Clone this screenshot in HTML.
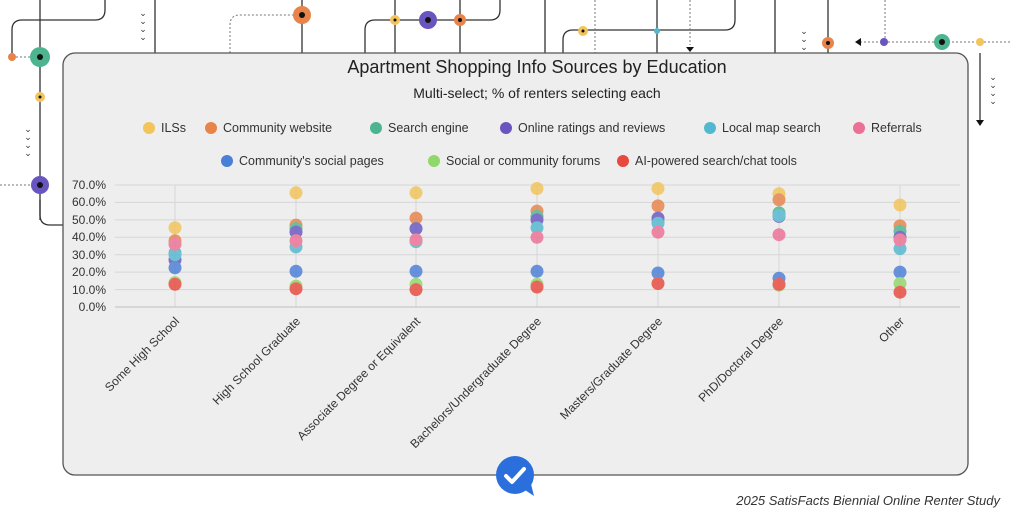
<!DOCTYPE html>
<html><head><meta charset="utf-8"><style>
html,body{margin:0;padding:0;background:#fff;}
svg{display:block;font-family:"Liberation Sans",sans-serif;}
</style></head><body>
<svg width="1024" height="519" viewBox="0 0 1024 519" xmlns="http://www.w3.org/2000/svg">
<g fill="none" stroke="#333" stroke-width="1.3">
<path d="M105 0 V10 Q105 20 95 20 H22 Q12 20 12 30 V55"/>
<line x1="40" y1="0" x2="40" y2="220"/>
<path d="M40 200 V215 Q40 225 50 225 H63"/>
<line x1="155" y1="0" x2="155" y2="53"/>
<line x1="302" y1="0" x2="302" y2="53"/>
<path d="M365 53 V30 Q365 20 375 20 H490 Q500 20 500 10 V0"/>
<line x1="395" y1="0" x2="395" y2="53"/>
<line x1="460" y1="0" x2="460" y2="53"/>
<path d="M563 53 V40 Q563 30 573 30 H725 Q735 30 735 20 V0"/>
<line x1="657" y1="0" x2="657" y2="53"/>
<line x1="545" y1="0" x2="545" y2="53"/>
<line x1="775" y1="0" x2="775" y2="53"/>
<line x1="828" y1="0" x2="828" y2="53"/>
<line x1="980" y1="53" x2="980" y2="120"/>
</g>
<g fill="none" stroke="#777" stroke-width="1" stroke-dasharray="2,2">
<path d="M230 53 V25 Q230 15 240 15 H302"/>
<line x1="0" y1="185" x2="40" y2="185"/>
<line x1="12" y1="57" x2="40" y2="57"/>
<line x1="860" y1="42" x2="1010" y2="42"/>
<line x1="885" y1="0" x2="885" y2="42"/>
<line x1="690" y1="0" x2="690" y2="45"/>
<line x1="595" y1="0" x2="595" y2="53"/>
</g>
<g fill="#333" font-size="9" text-anchor="middle">
<text x="143" y="16">⌄</text><text x="143" y="24">⌄</text><text x="143" y="32">⌄</text><text x="143" y="40">⌄</text>
<text x="804" y="34">⌄</text><text x="804" y="42">⌄</text><text x="804" y="50">⌄</text>
<text x="28" y="132">⌄</text><text x="28" y="140">⌄</text><text x="28" y="148">⌄</text><text x="28" y="156">⌄</text>
<text x="993" y="80">⌄</text><text x="993" y="88">⌄</text><text x="993" y="96">⌄</text><text x="993" y="104">⌄</text>
</g>
<circle cx="40" cy="57" r="10" fill="#4cb58f"/><circle cx="40" cy="57" r="3" fill="#111"/>
<circle cx="12" cy="57" r="4" fill="#e8834a"/>
<circle cx="40" cy="97" r="5" fill="#f2c45a"/><circle cx="40" cy="97" r="1.5" fill="#111"/>
<circle cx="40" cy="185" r="9" fill="#6a55c0"/><circle cx="40" cy="185" r="3" fill="#111"/>
<circle cx="302" cy="15" r="9" fill="#e8834a"/><circle cx="302" cy="15" r="3" fill="#111"/>
<circle cx="395" cy="20" r="5" fill="#f2c45a"/><circle cx="395" cy="20" r="1.5" fill="#111"/>
<circle cx="428" cy="20" r="9" fill="#6a55c0"/><circle cx="428" cy="20" r="3" fill="#111"/>
<circle cx="460" cy="20" r="6" fill="#e8834a"/><circle cx="460" cy="20" r="2" fill="#111"/>
<circle cx="583" cy="31" r="5" fill="#f2c45a"/><circle cx="583" cy="31" r="1.5" fill="#111"/>
<circle cx="657" cy="31" r="3" fill="#52b8d0"/>
<circle cx="828" cy="43" r="6" fill="#e8834a"/><circle cx="828" cy="43" r="2" fill="#111"/>
<circle cx="884" cy="42" r="4" fill="#6a55c0"/>
<circle cx="942" cy="42" r="8" fill="#4cb58f"/><circle cx="942" cy="42" r="3" fill="#111"/>
<circle cx="980" cy="42" r="4" fill="#f2c45a"/>
<polygon points="686,47 694,47 690,52" fill="#111"/>
<polygon points="976,120 984,120 980,126" fill="#111"/>
<polygon points="855,42 861,38 861,46" fill="#111"/>

<rect x="63" y="53" width="905" height="422" rx="12" fill="#eeeeee" stroke="#555" stroke-width="1.3"/>
<text x="537" y="73" font-size="18" text-anchor="middle" fill="#222">Apartment Shopping Info Sources by Education</text>
<text x="537" y="98" font-size="14" text-anchor="middle" fill="#222">Multi-select; % of renters selecting each</text>
<g font-size="12.5" fill="#333">
<circle cx="149" cy="128" r="6" fill="#f2c45a"/><text x="161" y="132">ILSs</text>
<circle cx="211" cy="128" r="6" fill="#e8834a"/><text x="223" y="132">Community website</text>
<circle cx="376" cy="128" r="6" fill="#4cb58f"/><text x="388" y="132">Search engine</text>
<circle cx="506" cy="128" r="6" fill="#6a55c0"/><text x="518" y="132">Online ratings and reviews</text>
<circle cx="710" cy="128" r="6" fill="#52b8d0"/><text x="722" y="132">Local map search</text>
<circle cx="859" cy="128" r="6" fill="#ec7096"/><text x="871" y="132">Referrals</text>
<circle cx="227" cy="161" r="6" fill="#4a7fd8"/><text x="239" y="165">Community's social pages</text>
<circle cx="434" cy="161" r="6" fill="#8fd86a"/><text x="446" y="165">Social or community forums</text>
<circle cx="623" cy="161" r="6" fill="#e8493e"/><text x="635" y="165">AI-powered search/chat tools</text>
</g>
<g stroke="#d6d6d6" stroke-width="1">
<line x1="115" y1="185" x2="960" y2="185"/><line x1="115" y1="202.4" x2="960" y2="202.4"/>
<line x1="115" y1="219.9" x2="960" y2="219.9"/><line x1="115" y1="237.3" x2="960" y2="237.3"/>
<line x1="115" y1="254.7" x2="960" y2="254.7"/><line x1="115" y1="272.1" x2="960" y2="272.1"/>
<line x1="115" y1="289.6" x2="960" y2="289.6"/>
<line x1="175" y1="185" x2="175" y2="307"/><line x1="296" y1="185" x2="296" y2="307"/>
<line x1="416" y1="185" x2="416" y2="307"/><line x1="537" y1="185" x2="537" y2="307"/>
<line x1="658" y1="185" x2="658" y2="307"/><line x1="779" y1="185" x2="779" y2="307"/>
<line x1="900" y1="185" x2="900" y2="307"/>
</g>
<line x1="115" y1="307" x2="960" y2="307" stroke="#c8c8c8" stroke-width="1.3"/>
<g font-size="12" fill="#333" text-anchor="end">
<text x="106" y="189">70.0%</text><text x="106" y="206">60.0%</text><text x="106" y="224">50.0%</text>
<text x="106" y="241">40.0%</text><text x="106" y="259">30.0%</text><text x="106" y="276">20.0%</text>
<text x="106" y="294">10.0%</text><text x="106" y="311">0.0%</text>
</g>
<g font-size="12" fill="#333" text-anchor="end">
<text transform="translate(180,322) rotate(-45)">Some High School</text>
<text transform="translate(301,322) rotate(-45)">High School Graduate</text>
<text transform="translate(421,322) rotate(-45)">Associate Degree or Equivalent</text>
<text transform="translate(542,322) rotate(-45)">Bachelors/Undergraduate Degree</text>
<text transform="translate(663,322) rotate(-45)">Masters/Graduate Degree</text>
<text transform="translate(784,322) rotate(-45)">PhD/Doctoral Degree</text>
<text transform="translate(905,322) rotate(-45)">Other</text>
</g>
<g opacity="0.82">
<g fill="#f2c45a"><circle cx="175" cy="227.7" r="6.5"/><circle cx="296" cy="192.8" r="6.5"/><circle cx="416" cy="192.8" r="6.5"/><circle cx="537" cy="188.5" r="6.5"/><circle cx="658" cy="188.5" r="6.5"/><circle cx="779" cy="193.7" r="6.5"/><circle cx="900" cy="205" r="6.5"/></g>
<g fill="#e8834a"><circle cx="175" cy="240.8" r="6.5"/><circle cx="296" cy="225.1" r="6.5"/><circle cx="416" cy="218.1" r="6.5"/><circle cx="537" cy="211.1" r="6.5"/><circle cx="658" cy="205.9" r="6.5"/><circle cx="779" cy="199.8" r="6.5"/><circle cx="900" cy="225.9" r="6.5"/></g>
<g fill="#4cb58f"><circle cx="175" cy="253" r="6.5"/><circle cx="296" cy="228.6" r="6.5"/><circle cx="416" cy="228.6" r="6.5"/><circle cx="537" cy="216.4" r="6.5"/><circle cx="658" cy="221.6" r="6.5"/><circle cx="779" cy="212.9" r="6.5"/><circle cx="900" cy="231.2" r="6.5"/></g>
<g fill="#6a55c0"><circle cx="175" cy="259.9" r="6.5"/><circle cx="296" cy="232.1" r="6.5"/><circle cx="416" cy="228.6" r="6.5"/><circle cx="537" cy="219.9" r="6.5"/><circle cx="658" cy="218.1" r="6.5"/><circle cx="779" cy="216.4" r="6.5"/><circle cx="900" cy="237.3" r="6.5"/></g>
<g fill="#52b8d0"><circle cx="175" cy="254.7" r="6.5"/><circle cx="296" cy="246.9" r="6.5"/><circle cx="416" cy="241.6" r="6.5"/><circle cx="537" cy="227.7" r="6.5"/><circle cx="658" cy="223.3" r="6.5"/><circle cx="779" cy="215.5" r="6.5"/><circle cx="900" cy="248.6" r="6.5"/></g>
<g fill="#ec7096"><circle cx="175" cy="244.3" r="6.5"/><circle cx="296" cy="240.8" r="6.5"/><circle cx="416" cy="239.9" r="6.5"/><circle cx="537" cy="237.3" r="6.5"/><circle cx="658" cy="232.1" r="6.5"/><circle cx="779" cy="234.7" r="6.5"/><circle cx="900" cy="239.9" r="6.5"/></g>
<g fill="#4a7fd8"><circle cx="175" cy="267.8" r="6.5"/><circle cx="296" cy="271.3" r="6.5"/><circle cx="416" cy="271.3" r="6.5"/><circle cx="537" cy="271.3" r="6.5"/><circle cx="658" cy="273" r="6.5"/><circle cx="779" cy="278.2" r="6.5"/><circle cx="900" cy="272.1" r="6.5"/></g>
<g fill="#8fd86a"><circle cx="175" cy="282.6" r="6.5"/><circle cx="296" cy="286.1" r="6.5"/><circle cx="416" cy="284.3" r="6.5"/><circle cx="537" cy="284.3" r="6.5"/><circle cx="658" cy="283.5" r="6.5"/><circle cx="779" cy="285.2" r="6.5"/><circle cx="900" cy="283.5" r="6.5"/></g>
<g fill="#e8493e"><circle cx="175" cy="284.3" r="6.5"/><circle cx="296" cy="288.7" r="6.5"/><circle cx="416" cy="289.6" r="6.5"/><circle cx="537" cy="287" r="6.5"/><circle cx="658" cy="283.5" r="6.5"/><circle cx="779" cy="284.3" r="6.5"/><circle cx="900" cy="292.2" r="6.5"/></g>
</g>
<circle cx="515" cy="475" r="19" fill="#2a6fdb"/>
<path d="M522 488 l12 8 -3 -12z" fill="#2a6fdb"/>
<path d="M506 476 l6 6 12 -13" fill="none" stroke="#fff" stroke-width="4" stroke-linecap="round" stroke-linejoin="round"/>
<text x="1000" y="505" font-size="13" font-style="italic" text-anchor="end" fill="#333">2025 SatisFacts Biennial Online Renter Study</text>
</svg>
</body></html>
